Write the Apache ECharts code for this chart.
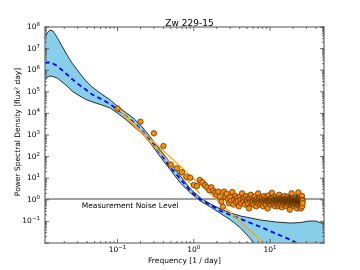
<!DOCTYPE html>
<html><head><meta charset="utf-8">
<script src="https://cdn.jsdelivr.net/npm/echarts@6/dist/echarts.min.js"></script>
<style>html,body{margin:0;padding:0;background:#fff}#c{width:360px;height:270px}</style>
</head><body><div id="c"></div>
<script>
const titleText = 'Zw 229-15';
const xName = 'Frequency [1 / day]';
const yName = 'Power Spectral Density [flux\u00B2 day]';
const noiseText = 'Measurement Noise Level';
const xMin = 0.0112, xMax = 51, yMin = 0.01, yMax = 1e8;

const xMajorTicks = [0.1, 1, 10];
const xMinorTicks = [0.02,0.03,0.04,0.05,0.06,0.07,0.08,0.09,0.2,0.3,0.4,0.5,0.6,0.7,0.8,0.9,2,3,4,5,6,7,8,9,20,30,40,50];
const yMajorTicks = [1e-2,1e-1,1,10,100,1e3,1e4,1e5,1e6,1e7,1e8];
const yMinorMult = [2,3,4,5,6,7,8,9];
const xTickLabels = [[0.1, '\u22121'], [1, '0'], [10, '1']];
const yTickLabels = [[0.1, '\u22121'], [1, '0'], [10, '1'], [100, '2'], [1e3, '3'], [1e4, '4'], [1e5, '5'], [1e6, '6'], [1e7, '7'], [1e8, '8']];

const bandFreq = [0.0112,0.0119,0.0130,0.01425,0.0161,0.0187,0.0218,0.0253,0.0304,0.0376,0.0465,0.0592,0.0802,0.0991,0.126,0.161,0.211,0.269,0.365,0.494,0.668,0.905,1.22,1.66,2.25,3.04,4.11,5.57,7.55,11.9,18.7,25.3,32.3,39.9,51];
const bandUpper = [3.1e7,5.3e7,7.3e7,6.5e7,3.4e7,1.32e7,5.1e6,2.15e6,9.2e5,3.5e5,1.67e5,8.8e4,4.2e4,2.2e4,1.16e4,6100,2350,810,200,51,12.6,3.2,1.25,0.64,0.375,0.245,0.178,0.144,0.116,0.094,0.084,0.089,0.104,0.104,0.076];
const bandLower = [3.5e5,4.6e5,5.4e5,5.1e5,4.35e5,2.85e5,1.86e5,1.09e5,7.1e4,4.6e4,3.4e4,2.6e4,1.78e4,1.04e4,5500,2600,1110,427,96,24,6.0,2.07,0.88,0.46,0.232,0.116,0.049,0.0153,0.0031,6.6e-5,1e-5,1e-5,1e-5,1e-5,1e-5];
const bandMedian = [2.2e6,2.27e6,2.27e6,2.04e6,1.56e6,1.02e6,6.3e5,3.9e5,2.3e5,1.35e5,7.5e4,4.9e4,2.7e4,1.5e4,8000,4000,1600,590,139,31,9.2,2.55,1.03,0.57,0.30,0.198,0.129,0.084,0.055,0.0275,0.0138,0.0081,0.0053,0.0038,0.0025];

const fitFreq = [0.1, 8.2];
const fitPower = [17000, 0.01];
const fit2Freq = [0.1, 1.2];
const fit2Power = [17000, 1.95];
const noiseLevel = 1.1;

const periodFreq = [
0.1,0.2,0.3,0.4,0.5,0.6,0.7,0.8,0.9,1.0,
1.1,1.2,1.3,1.4,1.5,1.6,1.7,1.8,1.9,2.0,
2.1,2.2,2.3,2.4,2.5,2.6,2.7,2.8,2.9,3.0,
3.1,3.2,3.3,3.4,3.5,3.6,3.7,3.8,3.9,4.0,
4.1,4.2,4.3,4.4,4.5,4.6,4.7,4.8,4.9,5.0,
5.1,5.2,5.3,5.4,5.5,5.6,5.7,5.8,5.9,6.0,
6.1,6.2,6.3,6.4,6.5,6.6,6.7,6.8,6.9,7.0,
7.1,7.2,7.3,7.4,7.5,7.6,7.7,7.8,7.9,8.0,
8.1,8.2,8.3,8.4,8.5,8.6,8.7,8.8,8.9,9.0,
9.1,9.2,9.3,9.4,9.5,9.6,9.7,9.8,9.9,10.0,
10.1,10.2,10.3,10.4,10.5,10.6,10.7,10.8,10.9,11.0,
11.1,11.2,11.3,11.4,11.5,11.6,11.7,11.8,11.9,12.0,
12.1,12.2,12.3,12.4,12.5,12.6,12.7,12.8,12.9,13.0,
13.1,13.2,13.3,13.4,13.5,13.6,13.7,13.8,13.9,14.0,
14.1,14.2,14.3,14.4,14.5,14.6,14.7,14.8,14.9,15.0,
15.1,15.2,15.3,15.4,15.5,15.6,15.7,15.8,15.9,16.0,
16.1,16.2,16.3,16.4,16.5,16.6,16.7,16.8,16.9,17.0,
17.1,17.2,17.3,17.4,17.5,17.6,17.7,17.8,17.9,18.0,
18.1,18.2,18.3,18.4,18.5,18.6,18.7,18.8,18.9,19.0,
19.1,19.2,19.3,19.4,19.5,19.6,19.7,19.8,19.9,20.0,
20.1,20.2,20.3,20.4,20.5,20.6,20.7,20.8,20.9,21.0,
21.1,21.2,21.3,21.4,21.5,21.6,21.7,21.8,21.9,22.0,
22.1,22.2,22.3,22.4,22.5,22.6,22.7,22.8,22.9,23.0,
23.1,23.2,23.3,23.4,23.5,23.6,23.7,23.8,23.9,24.0,
24.1,24.2,24.3,24.4,24.5,24.6,24.7,24.8,24.9,25.0,
25.1,25.2,25.3,25.4,25.5,25.6,25.7,25.8,25.9,26.0,
26.1,26.2,26.3,26.4,26.5,26.6,26.7];
const periodPower = [
17000,4100,1200,310,43,29,19,11.5,10.5,4.8,
4.3,8.3,6.5,4.8,3.8,2.8,3.8,2.6,2.1,1.7,
2.4,1.4,0.82,0.48,2.4,1.4,
1.9,1.1,0.7,1.3,0.9,2.3,0.6,1.0,1.5,0.8,
1.2,0.9,0.5,1.4,1.0,0.7,2.0,1.1,0.8,1.3,
0.6,1.0,1.5,0.9,0.7,1.2,0.4,1.1,0.8,1.7,
1.0,0.7,1.2,0.9,0.6,1.1,1.4,0.8,1.0,0.5,
1.1,0.9,0.7,2.0,1.0,0.8,1.1,0.6,1.3,0.9,
0.7,1.0,1.2,0.8,0.5,1.1,0.9,1.5,0.7,1.0,
1.1,0.6,0.9,1.3,0.8,1.0,0.4,1.1,0.9,1.6,
0.8,1.0,0.7,1.1,0.9,0.6,1.2,1.0,0.8,2.1,
0.9,0.7,1.1,0.8,1.3,0.6,1.0,0.9,1.1,0.5,
1.0,0.8,1.4,0.7,0.9,1.1,0.6,1.2,0.8,1.0,
0.7,1.1,0.9,0.5,1.0,1.7,0.8,1.1,0.6,0.9,
1.2,0.8,1.0,0.7,1.1,0.9,0.45,1.1,0.8,1.0,
0.6,0.9,1.3,0.8,1.0,0.7,1.1,0.9,1.5,0.8,
1.0,0.6,0.9,1.1,0.7,1.2,0.8,1.0,0.5,0.9,
1.1,0.8,0.9,0.7,1.4,1.0,0.6,0.9,1.1,0.8,
0.7,1.0,0.9,1.2,0.8,0.35,1.1,0.9,0.7,1.0,
1.1,0.8,0.6,1.0,0.9,2.0,0.7,1.1,0.8,0.9,
1.0,0.7,1.2,0.8,0.9,0.6,1.1,0.8,1.0,0.5,
0.9,1.1,0.7,0.8,1.0,0.6,0.9,1.3,0.8,1.0,
0.7,0.9,1.1,0.6,0.8,1.0,0.7,1.2,0.9,0.4,
0.8,1.0,0.7,0.9,1.1,0.6,0.8,1.0,2.2,0.7,
0.9,0.6,1.1,0.8,1.0,0.7,0.9,0.5,1.1,0.8,
1.0,0.7,0.9,0.6,1.2,0.8,0.9,0.4,1.0,0.7,
0.8,1.1,0.6,0.9,0.7,1.5,0.8,0.5,1.0,0.9,
0.7];

const FONT = 'DejaVu Sans';
const FRAME = '#8a8a8a';
const zip = (a, b) => a.map((v, i) => [v, b[i]]);

const rich = {
  b: {fontSize: 7.5, fontFamily: FONT, color: '#000', verticalAlign: 'bottom', lineHeight: 9},
  s: {fontSize: 5.5, fontFamily: FONT, color: '#000', verticalAlign: 'bottom', lineHeight: 7, padding: [0, 0, 3.5, 0]}
};

const yMinorTicks = [];
yMajorTicks.slice(0, -1).forEach(d => yMinorMult.forEach(m => yMinorTicks.push(d * m)));

const xTickData = xMajorTicks.map(v => [v, yMin, 1]).concat(xMinorTicks.map(v => [v, yMin, 0]));
const yTickData = yMajorTicks.map(v => [xMin, v, 1]).concat(yMinorTicks.map(v => [xMin, v, 0]));

const tickStyle = {stroke: '#444', lineWidth: 0.8};
function xTickRender(params, api) {
  const f = api.value(0), major = api.value(2) === 1, len = major ? 4 : 2;
  const b = api.coord([f, yMin]), t = api.coord([f, yMax]);
  return {type: 'group', children: [
    {type: 'line', shape: {x1: b[0], y1: b[1], x2: b[0], y2: b[1] - len}, style: tickStyle},
    {type: 'line', shape: {x1: t[0], y1: t[1], x2: t[0], y2: t[1] + len}, style: tickStyle}
  ]};
}
function yTickRender(params, api) {
  const v = api.value(1), major = api.value(2) === 1, len = major ? 4 : 2;
  const l = api.coord([xMin, v]), r = api.coord([xMax, v]);
  return {type: 'group', children: [
    {type: 'line', shape: {x1: l[0], y1: l[1], x2: l[0] + len, y2: l[1]}, style: tickStyle},
    {type: 'line', shape: {x1: r[0], y1: r[1], x2: r[0] - len, y2: r[1]}, style: tickStyle}
  ]};
}
function xLabelRender(params, api) {
  const i = params.dataIndex;
  const p = api.coord([xTickLabels[i][0], yMin]);
  return {type: 'text', x: p[0], y: p[1] + 2.5,
    style: {text: '{b|10}{s|' + xTickLabels[i][1] + '}', rich: rich, align: 'center', verticalAlign: 'top'}};
}
function yLabelRender(params, api) {
  const i = params.dataIndex;
  const p = api.coord([xMin, yTickLabels[i][0]]);
  return {type: 'text', x: p[0] - 5, y: p[1] - 0.5,
    style: {text: '{b|10}{s|' + yTickLabels[i][1] + '}', rich: rich, align: 'right', verticalAlign: 'middle'}};
}
function bandRender(params, api) {
  if (params.dataIndex !== 0) return null;
  const pts = [];
  for (let i = 0; i < bandFreq.length; i++) pts.push(api.coord([bandFreq[i], bandUpper[i]]));
  for (let i = bandFreq.length - 1; i >= 0; i--) pts.push(api.coord([bandFreq[i], bandLower[i]]));
  return {type: 'polygon', shape: {points: pts}, style: {fill: '#87ceeb', stroke: 'none'}};
}
function noiseTextRender(params, api) {
  const p = api.coord([0.034, noiseLevel]);
  return {type: 'text', x: p[0], y: p[1] + 3, style: {text: noiseText, fontSize: 7.5, fontFamily: FONT, fill: '#000', align: 'left', verticalAlign: 'top'}};
}

const axisCommon = {type: 'log', logBase: 10, axisTick: {show: false}, splitLine: {show: false}, minorTick: {show: false}, z: 10,
  axisLabel: {show: false}, axisLine: {show: true, lineStyle: {color: FRAME, width: 1.6}}};

const chart = echarts.init(document.getElementById('c'), null, {renderer: 'canvas', width: 360, height: 270});
chart.setOption({
  animation: false,
  backgroundColor: '#fff',
  title: {text: titleText, left: 184.5, top: 14, textAlign: 'center',
    textStyle: {fontSize: 9, fontWeight: 'normal', fontFamily: FONT, color: '#000'}},
  graphic: [{type: 'text', x: 18.5, y: 132, rotation: Math.PI / 2, z: 20,
    style: {text: yName, fontSize: 7.5, fontFamily: FONT, fill: '#000', align: 'center', verticalAlign: 'middle'}}],
  grid: {left: 45, top: 27, width: 279, height: 216, containLabel: false},
  xAxis: [
    Object.assign({}, axisCommon, {position: 'bottom', min: xMin, max: xMax,
      name: xName, nameLocation: 'middle', nameGap: 14,
      nameTextStyle: {fontSize: 7.5, fontFamily: FONT, color: '#000'}}),
    Object.assign({}, axisCommon, {position: 'top', min: xMin, max: xMax})
  ],
  yAxis: [
    Object.assign({}, axisCommon, {position: 'left', min: yMin, max: yMax, interval: 1}),
    Object.assign({}, axisCommon, {position: 'right', min: yMin, max: yMax, interval: 1})
  ],
  series: [
    {type: 'custom', renderItem: bandRender, data: zip(bandFreq, bandUpper), clip: true, z: 1, silent: true},
    {type: 'line', data: zip(bandFreq, bandUpper), showSymbol: false, symbol: 'none', clip: true, z: 2,
      lineStyle: {color: '#000', width: 0.8}},
    {type: 'line', data: zip(bandFreq, bandLower), showSymbol: false, symbol: 'none', clip: true, z: 2,
      lineStyle: {color: '#000', width: 0.8}},
    {type: 'line', data: [[xMin, noiseLevel], [xMax, noiseLevel]], symbol: 'none', z: 2,
      lineStyle: {color: '#808080', width: 1.5}},
    {type: 'custom', renderItem: noiseTextRender, data: [[0.034, noiseLevel]], z: 3, clip: false, silent: true},
    {type: 'line', data: zip(bandFreq, bandMedian), symbol: 'none', clip: true, z: 3,
      lineStyle: {color: '#0000ff', width: 1.8, type: [4.5, 3.5]}},
    {type: 'line', data: zip(fitFreq, fitPower), symbol: 'none', clip: true, z: 4,
      lineStyle: {color: '#ffa500', width: 1.2}},
    {type: 'line', data: zip(fit2Freq, fit2Power), symbol: 'none', clip: true, z: 4,
      lineStyle: {color: '#ffa500', width: 1.2}},
    {type: 'scatter', data: zip(periodFreq, periodPower), symbol: 'circle', symbolSize: 5.5, z: 5,
      itemStyle: {color: '#ff8c00', borderColor: '#2a1800', borderWidth: 0.6, opacity: 1}},
    {type: 'custom', renderItem: xTickRender, data: xTickData, clip: false, z: 11, silent: true},
    {type: 'custom', renderItem: yTickRender, data: yTickData, clip: false, z: 11, silent: true},
    {type: 'custom', renderItem: xLabelRender, data: xTickLabels.map(t => [t[0], yMin]), clip: false, z: 11, silent: true},
    {type: 'custom', renderItem: yLabelRender, data: yTickLabels.map(t => [xMin, t[0]]), clip: false, z: 11, silent: true}
  ]
});
</script></body></html>
